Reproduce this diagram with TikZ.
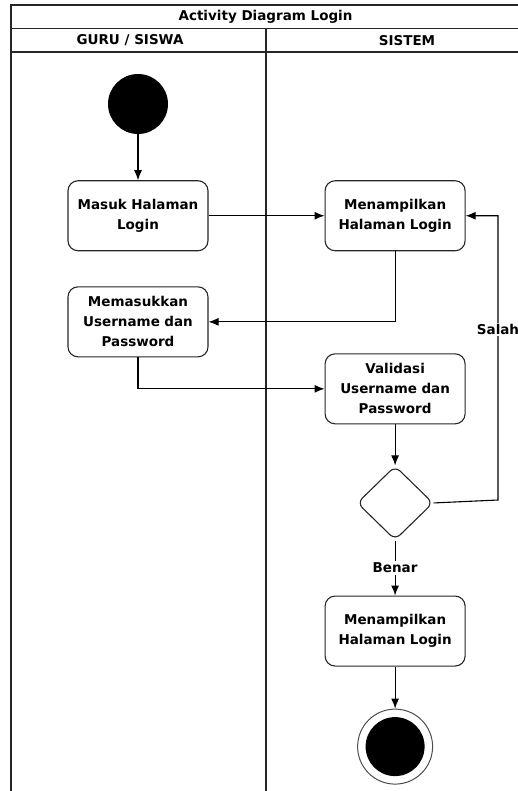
\documentclass[tikz,border=0pt]{standalone}
\usepackage{fontspec}
\setmainfont{DejaVu Sans}
\usepackage{tikz}
\usetikzlibrary{shapes.geometric, arrows.meta, positioning}

\begin{document}
\begin{tikzpicture}[x=1pt, y=-1pt, node distance=40pt, font=\bfseries\fontsize{13.5}{20}\selectfont]
    % Styles
    \tikzstyle{activity} = [rectangle, draw=black!85, line width=1.1pt, text width=130pt, align=center, rounded corners=10pt, minimum width=140pt, minimum height=70pt, inner sep=0pt]
    \tikzstyle{decision} = [diamond, draw=black!85, line width=1.1pt, minimum width=76pt, minimum height=74pt, inner sep=0pt, rounded corners=7pt]
    \tikzstyle{initial} = [circle, fill=black, minimum size=60pt, inner sep=0pt]
    \tikzstyle{line} = [draw, -{Latex[length=10pt, width=8pt]}, line width=1.1pt]
    \tikzstyle{lane} = [line width=1.3pt, draw=black!85]

    \clip (0,0) rectangle (518,791);

    % --- SWIMLANES ---
    \path [lane] (11,800) -- (11,5) -- (530,5);
    \path [lane] (11,28.5) -- (530,28.5);
    \path [lane] (11,52) -- (530,52);
    \path [lane] (266,28.5) -- (266,800);
    \node (title) at (265.5,17) {Activity Diagram Login};
    \node (guru) at (130,40.5) {GURU / SISWA};
    \node (sistem) at (407,40.5) {SISTEM};

    % --- ACTIVITIES ---
    \node [initial] (start) at (138,104) {};
    \node [activity, below=46pt of start] (masuk) {Masuk Halaman\\Login};
    \node [activity, right=116pt of masuk] (tampil) {Menampilkan\\Halaman Login};
    \node [activity, below=35pt of masuk] (input) {Memasukkan\\Username dan\\Password};
    \node [activity, below=102pt of tampil] (validasi) {Validasi\\Username dan\\Password};
    \node [decision, below=41pt of validasi] (cek) {};
    \node [activity, below=55pt of cek] (hasil) {Menampilkan\\Halaman Login};
    \node [circle, draw=black!70, line width=1pt, minimum size=75pt, inner sep=0pt, below=42pt of hasil] (stop) {};
    \node [initial, minimum size=59pt] (stopin) at (stop) {};
    \coordinate (salah) at (498,500);

    % --- CONNECTIONS ---
    \path [line] (start) -- (masuk);
    \path [line] (masuk) -- (tampil);
    \path [line] (tampil.south) |- (input.east);
    \path [line] (input.south) |- (validasi.west);
    \path [line] (validasi) -- (cek);
    \path [line] (cek.east) -- (salah) |- node[pos=0.3, fill=white, inner sep=1pt] {Salah} (tampil.east);
    \path [line] (cek) -- node[fill=white, inner sep=2pt] {Benar} (hasil);
    \path [line] (hasil) -- (stop);

\end{tikzpicture}
\end{document}
